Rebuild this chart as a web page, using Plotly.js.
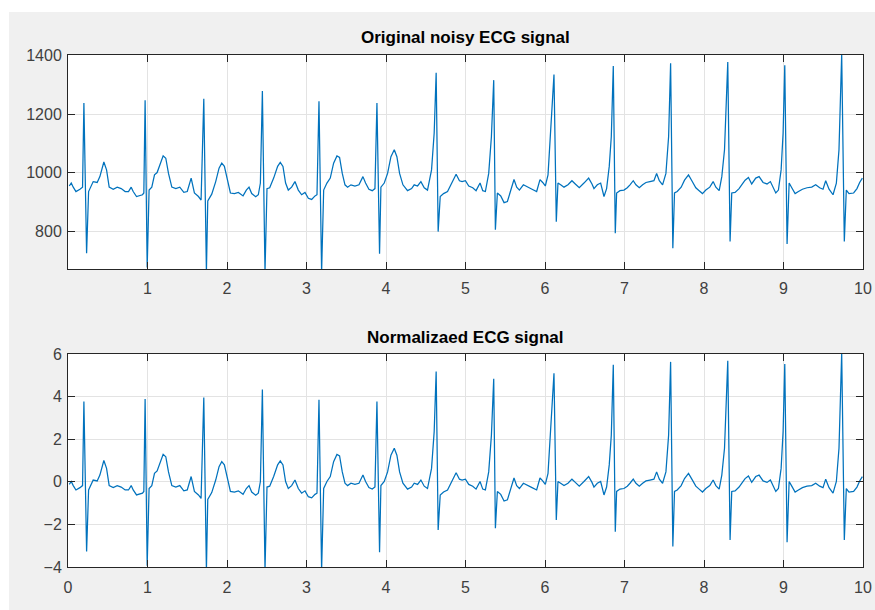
<!DOCTYPE html>
<html>
<head>
<meta charset="utf-8">
<script src="https://cdn.plot.ly/plotly-3.0.1.min.js"></script>
<style>
  html, body { margin: 0; padding: 0; background: #ffffff; }
  #chart { position: absolute; left: 9px; top: 12px; width: 866px; height: 598px; }
</style>
</head>
<body>
<div id="chart"></div>
<script>
// Time (s) and original ECG amplitude
const timeSec = [
  0.016,0.041,0.066,0.10,0.15,0.183,0.20,0.234,0.259,0.317,0.367,0.401,0.451,0.485,0.518,0.569,0.619,0.669,0.719,0.761,0.795,0.82,0.862,0.937,0.954,
  0.97,0.996,1.02,1.054,1.088,1.121,1.155,1.197,1.23,1.264,1.306,1.356,1.406,1.457,1.5,1.549,1.59,1.641,1.674,
  1.708,1.741,1.758,1.808,1.858,1.9,1.934,1.967,2.009,2.043,2.093,2.143,2.202,2.243,2.277,2.311,2.361,2.394,2.42,
  2.445,2.478,2.503,2.537,2.587,2.637,2.67,2.704,2.737,2.771,2.813,2.855,2.897,2.939,2.981,3.023,3.065,3.107,3.132,
  3.157,3.19,3.216,3.257,3.299,3.341,3.383,3.416,3.45,3.484,3.517,3.559,3.609,3.66,3.71,3.743,3.785,3.827,3.861,
  3.886,3.919,3.936,3.978,4.02,4.062,4.104,4.137,4.171,4.213,4.271,4.322,4.355,4.397,4.439,4.481,4.522,4.573,4.606,
  4.631,4.656,4.682,4.724,4.774,4.833,4.882,4.924,4.957,4.999,5.041,5.091,5.133,5.183,5.217,5.25,5.292,5.326,
  5.355,5.376,5.401,5.443,5.485,5.527,5.569,5.61,5.644,5.678,5.728,5.778,5.837,5.895,5.937,5.971,6.004,6.038,6.071,
  6.113,6.142,6.163,6.197,6.239,6.289,6.339,6.381,6.431,6.49,6.549,6.591,6.616,6.658,6.7,6.742,6.775,6.808,6.834,
  6.859,6.884,6.901,6.943,6.993,7.035,7.069,7.11,7.144,7.186,7.228,7.27,7.32,7.37,7.404,7.438,7.479,7.521,7.555,
  7.58,7.608,7.629,7.663,7.713,7.755,7.805,7.847,7.897,7.939,7.981,8.023,8.073,8.115,8.149,8.191,8.224,8.258,
  8.299,8.328,8.349,8.391,8.441,8.483,8.517,8.559,8.6,8.651,8.693,8.743,8.793,8.835,8.869,8.903,8.936,8.97,8.995,
  9.016,9.045,9.071,9.104,9.146,9.188,9.238,9.296,9.355,9.405,9.455,9.497,9.531,9.573,9.623,9.665,9.698,
  9.732,9.765,9.79,9.824,9.882,9.924,9.958,9.992
];
const ecgOriginal = [
  954,964,950,935,943,950,1238,724,935,969,966,986,1036,1009,950,943,950,945,935,935,950,935,918,924,930,
  1247,675,940,950,992,1000,1026,1057,1049,997,950,945,950,932,935,981,930,918,906,
  1252,660,903,926,969,1015,1032,1021,964,930,928,932,920,940,950,928,917,924,964,
  1279,660,945,948,981,1021,1035,1021,964,940,950,969,940,924,932,912,908,920,924,
  1244,660,940,964,981,1032,1057,1052,997,958,950,958,954,958,986,964,943,938,945,
  1238,722,950,964,997,1054,1078,1054,997,958,938,945,958,954,969,948,940,1009,1135,
  1341,798,918,928,935,969,994,972,969,972,954,948,938,964,938,935,997,1123,
  1316,804,930,920,897,901,940,976,950,940,958,950,943,935,976,966,954,992,1135,
  1335,832,964,958,950,958,972,961,948,964,981,961,945,958,964,918,945,1021,1123,
  1364,792,930,938,940,948,958,972,958,948,958,966,969,972,997,972,958,997,1123,
  1374,741,930,935,950,974,992,972,948,938,928,940,950,969,950,938,986,1078,
  1378,764,930,932,945,961,974,983,961,981,986,966,961,969,950,930,940,1009,1135,
  1367,756,964,948,928,935,943,948,950,958,948,943,972,943,924,964,1078,
  1405,764,940,928,930,945,966,981
];
// Normalisation constants (mean and standard deviation)
const signalMean = 963;
const signalStd = 73;
const ecgNormalized = ecgOriginal.map(v => (v - signalMean) / signalStd);

const xTicksTop = [1,2,3,4,5,6,7,8,9,10];
const xTicksBottom = [0,1,2,3,4,5,6,7,8,9,10];
const yTicksTop = [800,1000,1200,1400];
const yTicksBottom = [-4,-2,0,2,4,6];
const titleTop = 'Original noisy ECG signal';
const titleBottom = 'Normalizaed ECG signal';

const lineStyle = { color: '#0072BD', width: 1.25 };
const traces = [
  { x: timeSec, y: ecgOriginal, type: 'scatter', mode: 'lines', line: lineStyle, xaxis: 'x', yaxis: 'y', hoverinfo: 'x+y' },
  { x: timeSec, y: ecgNormalized, type: 'scatter', mode: 'lines', line: lineStyle, xaxis: 'x2', yaxis: 'y2', hoverinfo: 'x+y' }
];

const tickFont = { family: 'Liberation Sans, Arial, sans-serif', size: 16, color: '#404040' };
const axisCommon = {
  showline: true, linecolor: '#262626', linewidth: 1, mirror: 'ticks',
  ticks: 'inside', ticklen: 7, tickwidth: 1, tickcolor: '#262626',
  showgrid: true, gridcolor: '#e3e3e3', gridwidth: 1, zeroline: false,
  tickfont: tickFont, fixedrange: true
};

const layout = {
  width: 866, height: 598,
  margin: { l: 59, r: 12, t: 43, b: 43 },
  paper_bgcolor: '#f0f0f0', plot_bgcolor: '#ffffff',
  showlegend: false,
  xaxis: Object.assign({}, axisCommon, { domain: [0, 1], range: [0, 10], tickvals: xTicksTop, ticklabelstandoff: 5, anchor: 'y' }),
  yaxis: Object.assign({}, axisCommon, { domain: [0.582, 1], range: [670, 1402], tickvals: yTicksTop, ticklabelstandoff: 2, anchor: 'x' }),
  xaxis2: Object.assign({}, axisCommon, { domain: [0, 1], range: [0, 10], tickvals: xTicksBottom, ticklabelstandoff: 6, anchor: 'y2' }),
  yaxis2: Object.assign({}, axisCommon, { domain: [0, 0.416], range: [-4, 6], tickvals: yTicksBottom, ticklabelstandoff: 2, anchor: 'x2' }),
  annotations: [
    { text: '<b>' + titleTop + '</b>', xref: 'paper', yref: 'paper', x: 0.5, y: 1.035, xanchor: 'center', yanchor: 'middle', showarrow: false,
      font: { family: 'Liberation Sans, Arial, sans-serif', size: 17, color: '#000000' } },
    { text: '<b>' + titleBottom + '</b>', xref: 'paper', yref: 'paper', x: 0.5, y: 0.449, xanchor: 'center', yanchor: 'middle', showarrow: false,
      font: { family: 'Liberation Sans, Arial, sans-serif', size: 17, color: '#000000' } }
  ]
};

Plotly.newPlot('chart', traces, layout, { displayModeBar: false, staticPlot: true });
</script>
</body>
</html>
